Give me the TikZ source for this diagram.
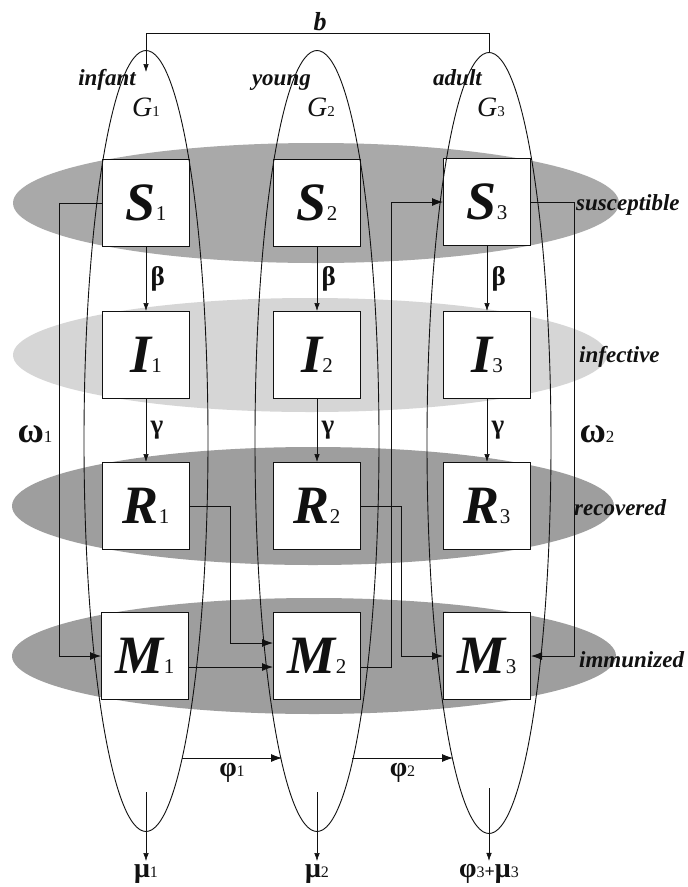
\documentclass[tikz,border=0pt]{standalone}
\usepackage{fontspec}
\setmainfont{Liberation Serif}
\usetikzlibrary{arrows.meta,positioning,calc,shapes.geometric}
\definecolor{Paper}{HTML}{FFFFFF}
\definecolor{Ink}{HTML}{111111}
\definecolor{BandS}{HTML}{A9A9A9}
\definecolor{BandI}{HTML}{D6D6D6}
\definecolor{BandRM}{HTML}{9E9E9E}
\newcommand{\compart}[2]{{\fontsize{54}{54}\selectfont\bfseries\itshape #1}{\fontsize{21}{21}\selectfont #2}}
\newcommand{\grpname}[2]{{\fontsize{28}{28}\selectfont\itshape #1}{\fontsize{15}{15}\selectfont #2}}
\newcommand{\ratesub}[2]{{\fontsize{28}{28}\selectfont\bfseries #1}{\fontsize{16}{16}\selectfont #2}}

\begin{document}
\begin{tikzpicture}[x=1pt,y=-1pt,text=Ink,comp/.style={draw=Ink,fill=white,line width=1pt,minimum width=87pt,minimum height=87pt,inner sep=0pt},band/.style={ellipse,fill=#1,inner sep=0pt},group/.style={ellipse,draw=Ink,line width=0.9pt,minimum width=124pt,minimum height=781pt,inner sep=0pt},tag/.style={font=\fontsize{23}{25}\selectfont\bfseries\itshape,inner sep=0pt},rate/.style={font=\fontsize{27}{27}\selectfont\bfseries},omega/.style={font=\fontsize{36}{36}\selectfont\bfseries},flow/.style={-{Latex[length=11pt,width=8pt]},line width=0.8pt,draw=Ink},thin/.style={-{Latex[length=8pt,width=5.5pt]},line width=0.6pt,draw=Ink}]
\fill[Paper] (0,0) rectangle (688,887);
\useasboundingbox (0,0) rectangle (688,887);
\node[band=BandS,minimum width=606pt,minimum height=120pt] (rowS) at (316,203){};
\node[band=BandI,minimum width=594pt,minimum height=114pt] (rowI) at (310,355){};
\node[band=BandRM,minimum width=602pt,minimum height=118pt] (rowR) at (313,506){};
\node[band=BandRM,minimum width=604pt,minimum height=116pt] (rowM) at (314,656){};
\node[comp] (S1) at (146,203){\compart{S}{1}};
\node[comp] (S2) at (317,203){\compart{S}{2}};
\node[comp] (S3) at (487,202){\compart{S}{3}};
\node[comp] (I1) at (146,355){\compart{I}{1}};
\node[comp] (I2) at (317,355){\compart{I}{2}};
\node[comp] (I3) at (487,355){\compart{I}{3}};
\node[comp] (R1) at (146,506){\compart{R}{1}};
\node[comp] (R2) at (317,506){\compart{R}{2}};
\node[comp] (R3) at (487,506){\compart{R}{3}};
\node[comp] (M1) at (145,656){\compart{M}{1}};
\node[comp] (M2) at (317,656){\compart{M}{2}};
\node[comp] (M3) at (487,656){\compart{M}{3}};
\node[group] (G1) at (146,441){};
\node[group] (G2) at (317,441){};
\node[group] (G3) at (489,443){};
\node[tag,anchor=base east] (infant) at (136,85){infant};
\node[tag,anchor=base east] (young) at (311,85){young};
\node[tag,anchor=base east] (adult) at (482,85){adult};
\node[anchor=base] (g1) at (146,116){\grpname{G}{1}};
\node[anchor=base] (g2) at (321,116){\grpname{G}{2}};
\node[anchor=base] (g3) at (491,116){\grpname{G}{3}};
\node[tag,anchor=base west] (susc) at (576,210){susceptible};
\node[tag,anchor=base west] (infe) at (579,362){infective};
\node[tag,anchor=base west] (reco) at (574,515){recovered};
\node[tag,anchor=base west] (immu) at (579,667){immunized};
\node[font=\fontsize{26}{26}\selectfont\bfseries\itshape] (birth) at (320,22){b};
\coordinate (bin) at (146,72);
\draw[thin] (G3.north) -- ++(0,-19) -| (bin);
\draw[thin] (S1) -- node[rate,right=1pt] (beta1){β} (I1);
\draw[thin] (S2) -- node[rate,right=1pt] (beta2){β} (I2);
\draw[thin] (S3) -- node[rate,right=1pt] (beta3){β} (I3);
\draw[thin] (I1) -- node[rate,right=1pt] (gamma1){γ} (R1);
\draw[thin] (I2) -- node[rate,right=1pt] (gamma2){γ} (R2);
\draw[thin] (I3) -- node[rate,right=1pt] (gamma3){γ} (R3);
\node[omega,anchor=base] (om1) at (35,442){ω\fontsize{17}{17}\selectfont\mdseries 1};
\node[omega,anchor=base] (om2) at (597,442){ω\fontsize{17}{17}\selectfont\mdseries 2};
\draw[flow] (S1.west) -- ++(-43,0) |- (M1.west);
\draw[flow] (S3.east) -- ++(43,0) |- (M3.east);
\draw[flow] (R1.east) -- ++(40,0) |- ([yshift=13pt]M2.west);
\draw[flow] ([yshift=-11pt]M1.east) -- ([yshift=-11pt]M2.west);
\draw[flow] ([yshift=-11pt]M2.east) -- ++(30,0) |- (S3.west);
\draw[flow] (R2.east) -- ++(40,0) |- (M3.west);
\coordinate (age1a) at (182,758);
\coordinate (age1b) at (282,758);
\coordinate (age2a) at (352,758);
\coordinate (age2b) at (453,758);
\draw[flow] (age1a) -- node[below=2pt] (phi1){\ratesub{φ}{1}} (age1b);
\draw[flow] (age2a) -- node[below=2pt] (phi2){\ratesub{φ}{2}} (age2b);
\node (mu1) at (146,874){\ratesub{μ}{1}};
\node (mu2) at (317,874){\ratesub{μ}{2}};
\node (out3) at (489,874){\ratesub{φ}{3}{\fontsize{18}{18}\selectfont\bfseries+}\ratesub{μ}{3}};
\coordinate (exit1) at (146,792);
\coordinate (exit2) at (317,792);
\coordinate (exit3) at (489,788);
\draw[thin] (exit1) -- (mu1.north);
\draw[thin] (exit2) -- (mu2.north);
\draw[thin] (exit3) -- (out3.north);
\end{tikzpicture}
\end{document}
